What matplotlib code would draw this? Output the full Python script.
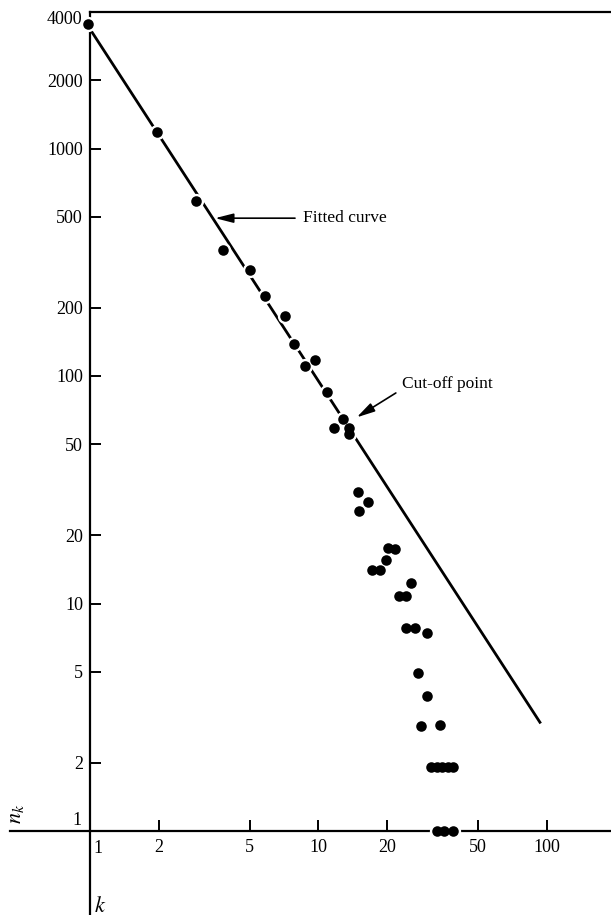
import numpy as np
import matplotlib
matplotlib.use("Agg")
import matplotlib.pyplot as plt
from matplotlib.ticker import FixedLocator, FixedFormatter, NullLocator

plt.rcParams['font.family'] = ['Liberation Serif', 'DejaVu Serif']
plt.rcParams['mathtext.fontset'] = 'stix'

# ---------------- data ----------------
k_obs = [0.98, 1.96, 2.91, 3.82, 5.01, 5.84, 7.15, 7.85, 8.74, 9.67,
         10.92, 11.75, 12.79, 13.63, 13.63, 14.88, 16.46, 15.12, 20.26, 21.75,
         19.70, 17.19, 18.64, 25.55, 22.57, 24.10, 24.34, 26.58, 29.85, 27.34,
         29.94, 28.31, 34.2, 31.2, 33.0, 34.9, 36.9, 39.0, 33.0, 35.7, 38.8]
n_obs = [3530, 1186, 590, 357, 291, 225, 184, 138, 111, 118,
         85, 59, 65, 59.3, 55.4, 30.8, 27.9, 25.5, 17.5, 17.4,
         15.5, 14.0, 14.0, 12.3, 10.8, 10.8, 7.83, 7.83, 7.44, 4.95,
         3.92, 2.88, 2.91, 1.92, 1.92, 1.92, 1.92, 1.92, 1.0, 1.0, 1.0]

fit_k = [1.0, 94.2]
fit_n = [3350, 2.97]

x_ticks = [1, 2, 5, 10, 20, 50, 100]
x_labels = ['', '2', '5', '10', '20', '50', '100']
y_ticks = [1, 2, 5, 10, 20, 50, 100, 200, 500, 1000, 2000, 4000]
y_labels = ['', '2', '5', '10', '20', '50', '100', '200', '500', '1000', '2000', '']

fitted_label = 'Fitted curve'
fitted_xy = (3.53, 494)
fitted_text = (8.6, 494)
cutoff_label = 'Cut-off point'
cutoff_xy = (14.73, 65.8)
cutoff_text = (23.3, 92.0)

# ---------------- layout ----------------
W, H = 611, 915
px_k1, px_dec_x = 90.0, 228.3
px_n1, px_dec_y = 831.0, 227.5
left_px, top_px = 10.0, 11.5
TICK_FS = 13

fig = plt.figure(figsize=(W / 100, H / 100), dpi=100)
ax = fig.add_axes([left_px / W, 0, 1 - left_px / W, 1 - top_px / H])
ax.set_xscale('log')
ax.set_yscale('log')
xmin = 10 ** ((left_px - px_k1) / px_dec_x)
xmax = 10 ** ((W - px_k1) / px_dec_x)
ymin = 10 ** (-(H - px_n1) / px_dec_y)
ymax = 10 ** ((px_n1 - top_px) / px_dec_y)
ax.set_xlim(xmin, xmax)
ax.set_ylim(ymin, ymax)
ax.patch.set_alpha(0)

ax.spines['right'].set_visible(False)
ax.spines['left'].set_position(('data', 1))
ax.spines['bottom'].set_position(('data', 1))
ax.spines['top'].set_bounds(1, xmax)
for s in ['left', 'bottom', 'top']:
    ax.spines[s].set_linewidth(1.6)
    ax.spines[s].set_color('black')

ax.xaxis.set_major_locator(FixedLocator(x_ticks))
ax.xaxis.set_major_formatter(FixedFormatter(x_labels))
ax.xaxis.set_minor_locator(NullLocator())
ax.yaxis.set_major_locator(FixedLocator(y_ticks))
ax.yaxis.set_major_formatter(FixedFormatter(y_labels))
ax.yaxis.set_minor_locator(NullLocator())
ax.tick_params(direction='in', length=8, width=1.4, labelsize=TICK_FS, colors='black')
ax.tick_params(axis='x', pad=5.5)
ax.tick_params(axis='y', pad=5)

# special placed tick labels
ax.annotate('1', xy=(1, 1), xytext=(6.0, -12.5), textcoords='offset points',
            ha='center', va='center', fontsize=TICK_FS)
ax.annotate('1', xy=(1, 1), xytext=(-5.8, 7.9), textcoords='offset points',
            ha='right', va='center', fontsize=TICK_FS)
ax.annotate('4000', xy=(1, ymax), xytext=(-5.8, -6.1), textcoords='offset points',
            ha='right', va='center', fontsize=TICK_FS)

# axis names
ax.annotate(r'$n_k$', xy=(1, 1), xytext=(-52.6, 12.2), textcoords='offset points',
            ha='center', va='center', rotation=90, fontsize=16)
ax.annotate(r'$k$', xy=(1, 1), xytext=(7.2, -54.5), textcoords='offset points',
            ha='center', va='center', fontsize=16)

# fitted line
ax.plot(fit_k, fit_n, color='black', lw=2.0, solid_capstyle='butt', zorder=2)

# white halo then black dots
ax.plot(k_obs, n_obs, 'o', ms=11, color='white', mec='white', mew=0,
        zorder=3, clip_on=False)
ax.plot(k_obs, n_obs, 'o', ms=7.6, color='black', mec='black', mew=0,
        zorder=4, clip_on=False)

# annotations
ax.annotate(fitted_label, xy=fitted_xy, xytext=fitted_text, ha='left', va='center',
            fontsize=12.5,
            arrowprops=dict(arrowstyle='-|>,head_length=1.1,head_width=0.28',
                            color='black', lw=1.2, mutation_scale=10,
                            shrinkA=4, shrinkB=0, relpos=(0, 0.5)))
ax.annotate(cutoff_label, xy=cutoff_xy, xytext=cutoff_text, ha='left', va='center',
            fontsize=12.5,
            arrowprops=dict(arrowstyle='-|>,head_length=1.1,head_width=0.28',
                            color='black', lw=1.2, mutation_scale=10,
                            shrinkA=3, shrinkB=0, relpos=(0, 0.2)))

fig.savefig('out.png', dpi=100)
